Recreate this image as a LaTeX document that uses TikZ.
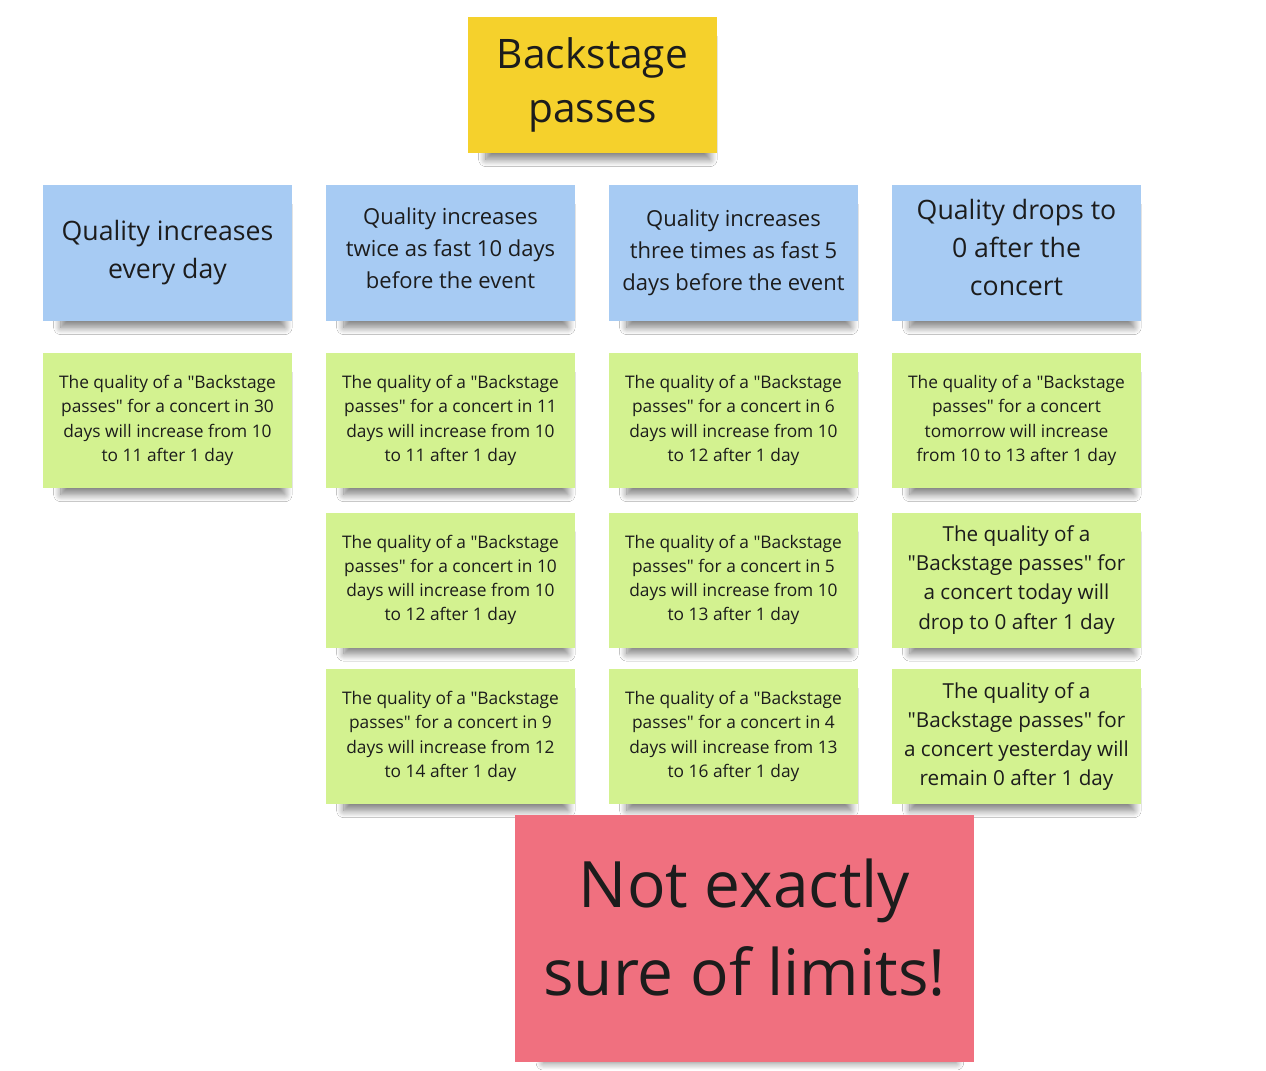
\documentclass[tikz,border=0pt]{standalone}
\usepackage{fontspec}
\setmainfont{Open Sans}[Ligatures=TeXOff]
\usetikzlibrary{shadows.blur}

\definecolor{noteyellow}{HTML}{F5D12C}
\definecolor{noteblue}{HTML}{A7CBF3}
\definecolor{notegreen}{HTML}{D3F290}
\definecolor{notepink}{HTML}{F0707F}
\definecolor{notetext}{HTML}{1C1C1C}

\tikzset{
  note/.style={rectangle, align=center, text=notetext, inner sep=0pt,
    minimum width=186.75pt, minimum height=101.25pt,
    blur shadow={shadow xshift=4.5pt, shadow yshift=-11pt, shadow scale=0.9,
      shadow blur radius=6pt, shadow blur steps=12, shadow opacity=50}},
  yellownote/.style={note, fill=noteyellow, minimum height=102pt,
    font=\fontsize{30.5}{41}\selectfont},
  bluenote/.style={note, fill=noteblue, minimum height=102pt},
  greennote/.style={note, fill=notegreen, font=\fontsize{13}{18.2}\selectfont},
  pinknote/.style={note, fill=notepink, minimum width=344.25pt, minimum height=185.25pt,
    font=\fontsize{48}{66}\selectfont, text depth=16.5pt},
  bigrule/.style={font=\fontsize{20}{28.5}\selectfont},
  smallrule/.style={font=\fontsize{16.5}{24}\selectfont},
  bigex/.style={font=\fontsize{15.5}{21.8}\selectfont}
}

\begin{document}
\begin{tikzpicture}[x=0.75pt,y=-0.75pt]
\fill[white] (0,0) rectangle (1266,1070);
\useasboundingbox (0,0) rectangle (1266,1070);

% title
\node[yellownote] (bp) at (592.5,85) {Backstage\\passes};

% rules
\node[bluenote,bigrule] (r1) at (167.5,253) {Quality increases\\every day};
\node[bluenote,smallrule,text depth=8pt] (r2) at (450.5,253) {Quality increases\\twice as fast 10 days\\before the event};
\node[bluenote,smallrule] (r3) at (733.5,253) {Quality increases\\three times as fast 5\\days before the event};
\node[bluenote,bigrule,text depth=9pt] (r4) at (1016.5,253) {Quality drops to\\0 after the\\concert};

% examples
\node[greennote] (e11) at (167.5,420.5) {The quality of a "Backstage\\passes" for a concert in 30\\days will increase from 10\\to 11 after 1 day};
\node[greennote] (e21) at (450.5,420.5) {The quality of a "Backstage\\passes" for a concert in 11\\days will increase from 10\\to 11 after 1 day};
\node[greennote] (e22) at (450.5,580) {The quality of a "Backstage\\passes" for a concert in 10\\days will increase from 10\\to 12 after 1 day};
\node[greennote] (e23) at (450.5,736.5) {The quality of a "Backstage\\passes" for a concert in 9\\days will increase from 12\\to 14 after 1 day};
\node[greennote] (e31) at (733.5,420.5) {The quality of a "Backstage\\passes" for a concert in 6\\days will increase from 10\\to 12 after 1 day};
\node[greennote] (e32) at (733.5,580) {The quality of a "Backstage\\passes" for a concert in 5\\days will increase from 10\\to 13 after 1 day};
\node[greennote] (e33) at (733.5,736.5) {The quality of a "Backstage\\passes" for a concert in 4\\days will increase from 13\\to 16 after 1 day};
\node[greennote] (e41) at (1016.5,420.5) {The quality of a "Backstage\\passes" for a concert\\tomorrow will increase\\from 10 to 13 after 1 day};
\node[greennote,bigex] (e42) at (1016.5,580) {The quality of a\\"Backstage passes" for\\a concert today will\\drop to 0 after 1 day};
\node[greennote,bigex] (e43) at (1016.5,736.5) {The quality of a\\"Backstage passes" for\\a concert yesterday will\\remain 0 after 1 day};

% open question
\node[pinknote] (lim) at (744.5,938.5) {Not exactly\\sure of limits!};
\end{tikzpicture}
\end{document}
